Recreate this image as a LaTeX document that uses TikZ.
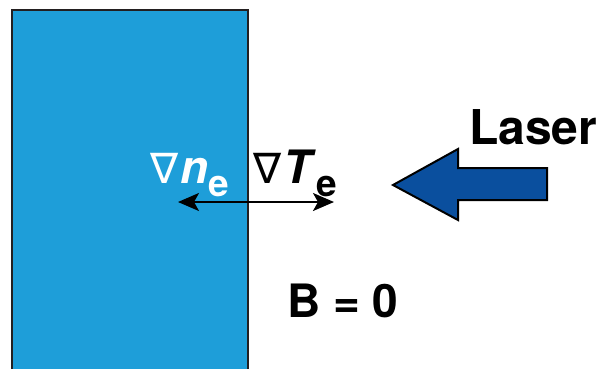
\documentclass[tikz,border=0pt]{standalone}
\usepackage{fontspec}
\setmainfont{TeX Gyre Heros}
\newfontfamily\nablafont{DejaVu Sans}
\usetikzlibrary{arrows.meta}
\definecolor{slab}{HTML}{1E9ED9}
\definecolor{laserblue}{HTML}{0A4F9E}
\definecolor{edge}{HTML}{231F20}
\tikzset{
  lbl/.style={anchor=base west, inner sep=0pt, font=\fontsize{46}{46}\selectfont\bfseries},
}
\newcommand{\sube}{\raisebox{-13pt}{\fontsize{37}{37}\selectfont\bfseries e}}
\newcommand{\nab}{{\nablafont\mdseries\fontsize{42}{42}\selectfont ∇}\kern2pt}
\begin{document}
\begin{tikzpicture}[x=1pt,y=-1pt]
\useasboundingbox (0,0) rectangle (600,368);
% plasma slab
\fill[slab] (12,10) rectangle (248,372);
\draw[edge, line width=2.2pt] (12,372) -- (12,10) -- (248,10) -- (248,372);
% laser arrow
\draw[fill=laserblue, draw=black, line width=2pt, line join=miter]
  (393,185) -- (458,149) -- (458,168) -- (547,168) -- (547,200) -- (458,200) -- (458,220) -- cycle;
\node[lbl, font=\fontsize{48}{48}\selectfont\bfseries] (laser) at (469,144) {Laser};
% gradients
\node[lbl, text=white] (gn) at (150,183) {\nab\textit{n}\sube};
\node[lbl, text=black] (gt) at (253,183) {\nab\textit{T}\sube};
\coordinate (aL) at (178,202);
\coordinate (aR) at (334,202);
\draw[black, line width=2pt, {Stealth[length=21pt,width=18pt,inset=5pt]}-{Stealth[length=21pt,width=18pt,inset=5pt]}] (aL) -- (aR);
% field
\node[lbl] (bf) at (287,317) {B = 0};
\end{tikzpicture}
\end{document}
